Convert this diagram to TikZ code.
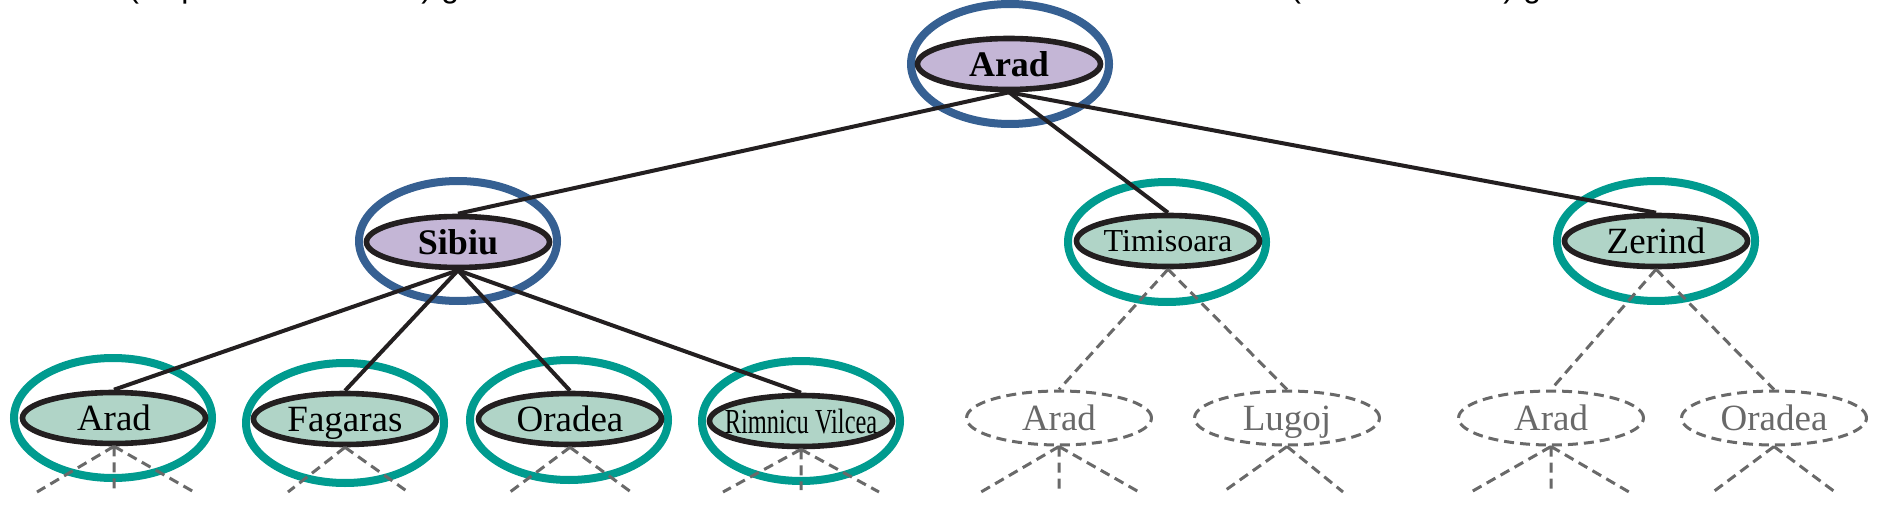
\documentclass[tikz,border=0pt]{standalone}
\usepackage{fontspec}
\setmainfont{Liberation Serif}
\newfontfamily\slidefont{Liberation Sans}
\usetikzlibrary{shapes.geometric}
\definecolor{expanded}{RGB}{196,182,214}
\definecolor{frontier}{RGB}{176,212,199}
\definecolor{ringblue}{RGB}{54,96,146}
\definecolor{ringteal}{RGB}{0,155,143}
\definecolor{edgeblack}{RGB}{35,31,32}
\definecolor{ghost}{RGB}{105,105,105}
\begin{document}
\begin{tikzpicture}[x=0.5pt,y=-0.5pt,
  citybase/.style={ellipse,inner sep=0pt,minimum width=91.5pt,minimum height=25.5pt,
    text height=13pt,text depth=0.8pt,
    font=\fontsize{18.5}{20}\selectfont},
  expnode/.style={citybase,draw=edgeblack,line width=2.8pt,fill=expanded,font=\fontsize{18}{20}\selectfont\bfseries},
  frontnode/.style={citybase,draw=edgeblack,line width=2.8pt,fill=frontier},
  ghostnode/.style={citybase,draw=ghost,line width=1.5pt,dash pattern=on 5pt off 3pt,text=ghost,minimum width=92.5pt,minimum height=27pt},
  ringbase/.style={ellipse,inner sep=0pt,minimum width=99pt,minimum height=60pt,line width=4pt},
  bluering/.style={ringbase,draw=ringblue},
  tealring/.style={ringbase,draw=ringteal},
  treeedge/.style={draw=edgeblack,line width=2pt},
  ghostedge/.style={draw=ghost,line width=1.5pt,dash pattern=on 5pt off 3pt},
  frag/.style={anchor=base west,inner sep=0pt,font=\slidefont\fontsize{16}{18}\selectfont}
]
\useasboundingbox (0,0) rectangle (1893,518);
\clip (0,0) rectangle (1893,518);

% cut-off slide text at the top (only its lowest strokes show)
\node[frag] (fa) at (128,-2) {(};
\node[frag] (fb) at (181,-2) {p};
\node[frag] (fc) at (421,-2) {)};
\node[frag] (fd) at (441,-2) {g};
\node[frag] (fe) at (1290,-2) {(};
\node[frag] (ff) at (1503,-2) {)};
\node[frag] (fg) at (1523,-2) {g};

% rings
\node[bluering] (r-arad) at (1010,64) {};
\node[bluering] (r-sibiu) at (458,241) {};
\node[tealring] (r-timisoara) at (1167,242) {};
\node[tealring] (r-zerind) at (1656,241) {};
\node[tealring] (r-arad3) at (113,418) {};
\node[tealring] (r-fagaras) at (345,423) {};
\node[tealring] (r-oradea) at (569,420) {};
\node[tealring] (r-rimnicu) at (801,421) {};

% nodes
\node[expnode] (arad) at (1009,64) {Arad};
\node[expnode] (sibiu) at (458,242) {Sibiu};
\node[frontnode,font=\fontsize{16}{18}\selectfont,text height=11pt] (timisoara) at (1168,241) {Timisoara};
\node[frontnode] (zerind) at (1656,241) {Zerind};
\node[frontnode] (arad3) at (114,418) {Arad};
\node[frontnode] (fagaras) at (345,419) {Fagaras};
\node[frontnode] (oradea) at (570,419) {Oradea};
\node[frontnode] (rimnicu) at (801,421) {\makebox[58pt]{\scalebox{0.66}[0.95]{Rimnicu Vilcea}}};
\node[ghostnode] (g-arad) at (1059,418) {Arad};
\node[ghostnode] (g-lugoj) at (1287,418) {Lugoj};
\node[ghostnode] (g-arad2) at (1551,418) {Arad};
\node[ghostnode] (g-oradea) at (1774,418) {Oradea};

% solid edges
\draw[treeedge] (arad.south) -- (sibiu.north);
\draw[treeedge] (arad.south) -- (timisoara.north);
\draw[treeedge] (arad.south) -- (zerind.north);
\draw[treeedge] (sibiu.south) -- (arad3.north);
\draw[treeedge] (sibiu.south) -- (fagaras.north);
\draw[treeedge] (sibiu.south) -- (oradea.north);
\draw[treeedge] (sibiu.south) -- (rimnicu.north);

% dashed edges
\draw[ghostedge] (timisoara.south) -- (g-arad.north);
\draw[ghostedge] (timisoara.south) -- (g-lugoj.north);
\draw[ghostedge] (zerind.south) -- (g-arad2.north);
\draw[ghostedge] (zerind.south) -- (g-oradea.north);

% fans of unexplored successors
\coordinate (a3l) at (37,492);   \coordinate (a3m) at (114,490);  \coordinate (a3r) at (194,492);
\coordinate (fgl) at (288,492);  \coordinate (fgr) at (408,492);
\coordinate (orl) at (510,492);  \coordinate (orr) at (631,492);
\coordinate (rvl) at (723,492);  \coordinate (rvm) at (801,490);  \coordinate (rvr) at (879,492);
\coordinate (gal) at (981,492);  \coordinate (gam) at (1059,490); \coordinate (gar) at (1139,492);
\coordinate (gll) at (1223,492); \coordinate (glr) at (1343,492);
\coordinate (g2l) at (1471,492); \coordinate (g2m) at (1551,490); \coordinate (g2r) at (1629,492);
\coordinate (gol) at (1713,492); \coordinate (gor) at (1835,492);

\draw[ghostedge] (arad3.south) -- (a3l) (arad3.south) -- (a3m) (arad3.south) -- (a3r);
\draw[ghostedge] (fagaras.south) -- (fgl) (fagaras.south) -- (fgr);
\draw[ghostedge] (oradea.south) -- (orl) (oradea.south) -- (orr);
\draw[ghostedge] (rimnicu.south) -- (rvl) (rimnicu.south) -- (rvm) (rimnicu.south) -- (rvr);
\draw[ghostedge] (g-arad.south) -- (gal) (g-arad.south) -- (gam) (g-arad.south) -- (gar);
\draw[ghostedge] (g-lugoj.south) -- (gll) (g-lugoj.south) -- (glr);
\draw[ghostedge] (g-arad2.south) -- (g2l) (g-arad2.south) -- (g2m) (g-arad2.south) -- (g2r);
\draw[ghostedge] (g-oradea.south) -- (gol) (g-oradea.south) -- (gor);
\end{tikzpicture}
\end{document}
